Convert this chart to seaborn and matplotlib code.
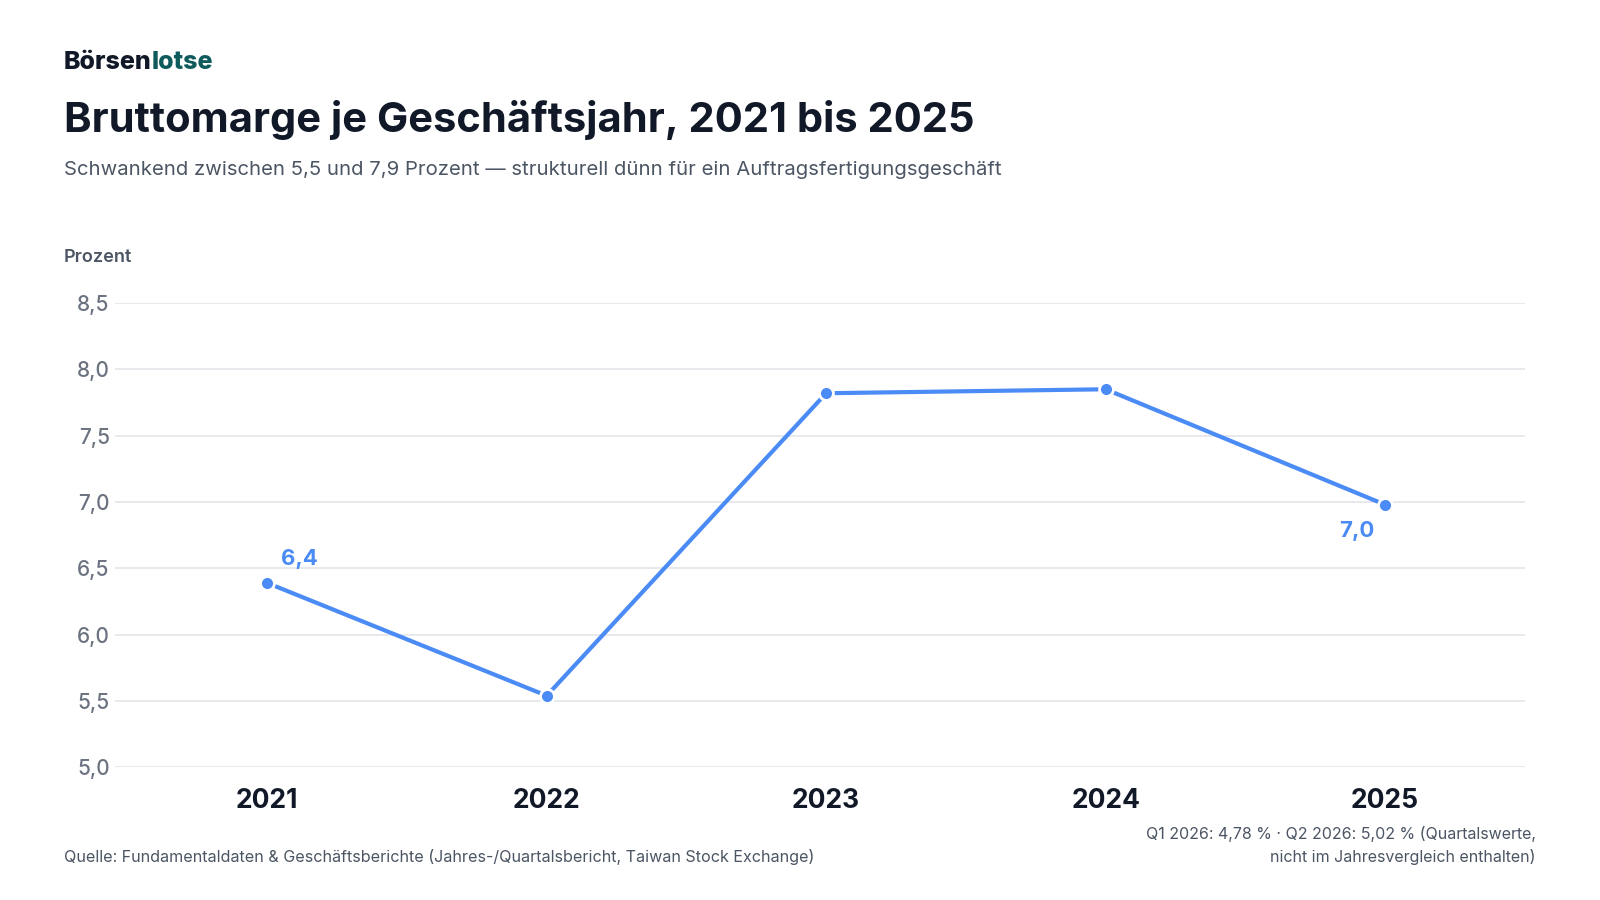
import pandas as pd
import seaborn as sns
import matplotlib.pyplot as plt
from matplotlib.ticker import FuncFormatter

years = ["2021", "2022", "2023", "2024", "2025"]
margin = [6.39, 5.54, 7.82, 7.85, 6.98]
y_ticks = [5.0, 5.5, 6.0, 6.5, 7.0, 7.5, 8.0, 8.5]
labelled = {"2021": "6,4", "2025": "7,0"}

BLUE = "#4b8bf5"
DARK = "#111827"
GREY = "#4b5563"
LIGHT = "#6b7280"

sns.set_style("white")
plt.rcParams["font.family"] = ["Inter", "DejaVu Sans"]

df = pd.DataFrame({"year": years, "margin": margin})

fig = plt.figure(figsize=(16, 9), dpi=100)
ax = fig.add_axes([0.072, 0.1474, 0.881, 0.5159])

sns.lineplot(data=df, x="year", y="margin", ax=ax, color=BLUE, linewidth=3,
             marker="o", markersize=10, markeredgecolor="white",
             markeredgewidth=2, clip_on=False, zorder=3)

ax.set_ylim(5.0, 8.5)
ax.set_xlim(-0.544, 4.5)
ax.set_yticks(y_ticks)
ax.yaxis.set_major_formatter(FuncFormatter(lambda v, p: f"{v:.1f}".replace(".", ",")))
ax.grid(axis="y", color="#e5e7eb", linewidth=1.3)
ax.set_axisbelow(True)
for s in ax.spines.values():
    s.set_visible(False)
ax.tick_params(axis="both", length=0)
ax.tick_params(axis="y", labelsize=15, labelcolor=LIGHT, pad=4)
ax.tick_params(axis="x", labelsize=19, labelcolor=DARK, pad=15)
for t in ax.get_xticklabels():
    t.set_fontweight("bold")
for t in ax.get_yticklabels():
    t.set_fontweight("medium")
ax.set_xlabel("")
ax.set_ylabel("")

for i, (yr, val) in enumerate(zip(years, margin)):
    if yr in labelled:
        if i == 0:
            ax.annotate(labelled[yr], (i, val), xytext=(10, 17), textcoords="offset points",
                        color=BLUE, fontsize=16, fontweight="bold", ha="left", va="center")
        else:
            ax.annotate(labelled[yr], (i, val), xytext=(-20, -19), textcoords="offset points",
                        color=BLUE, fontsize=16, fontweight="bold", ha="center", va="center")

# header
b1 = fig.text(0.040, 0.931, "Börsen", fontsize=18, fontweight="heavy", color=DARK, va="center")
fig.canvas.draw()
bb = b1.get_window_extent()
x_end = fig.transFigure.inverted().transform((bb.x1, bb.y0))[0]
fig.text(x_end, 0.931, "lotse", fontsize=18, fontweight="heavy", color="#0f5a5c", va="center")

fig.text(0.040, 0.867, "Bruttomarge je Geschäftsjahr, 2021 bis 2025", fontsize=30,
         fontweight="bold", color=DARK, va="center")
fig.text(0.040, 0.811, "Schwankend zwischen 5,5 und 7,9 Prozent — strukturell dünn für ein Auftragsfertigungsgeschäft",
         fontsize=14.6, color=GREY, va="center")
fig.text(0.040, 0.714, "Prozent", fontsize=13, fontweight="semibold", color=GREY, va="center")

# footer
fig.text(0.040, 0.048, "Quelle: Fundamentaldaten & Geschäftsberichte (Jahres-/Quartalsbericht, Taiwan Stock Exchange)",
         fontsize=11.6, color=GREY, va="center")
fig.text(0.960, 0.061, "Q1 2026: 4,78 % · Q2 2026: 5,02 % (Quartalswerte,\nnicht im Jahresvergleich enthalten)",
         fontsize=11.5, color=GREY, va="center", ha="right", linespacing=1.55)

fig.savefig("out.png", dpi=100, facecolor="white")
